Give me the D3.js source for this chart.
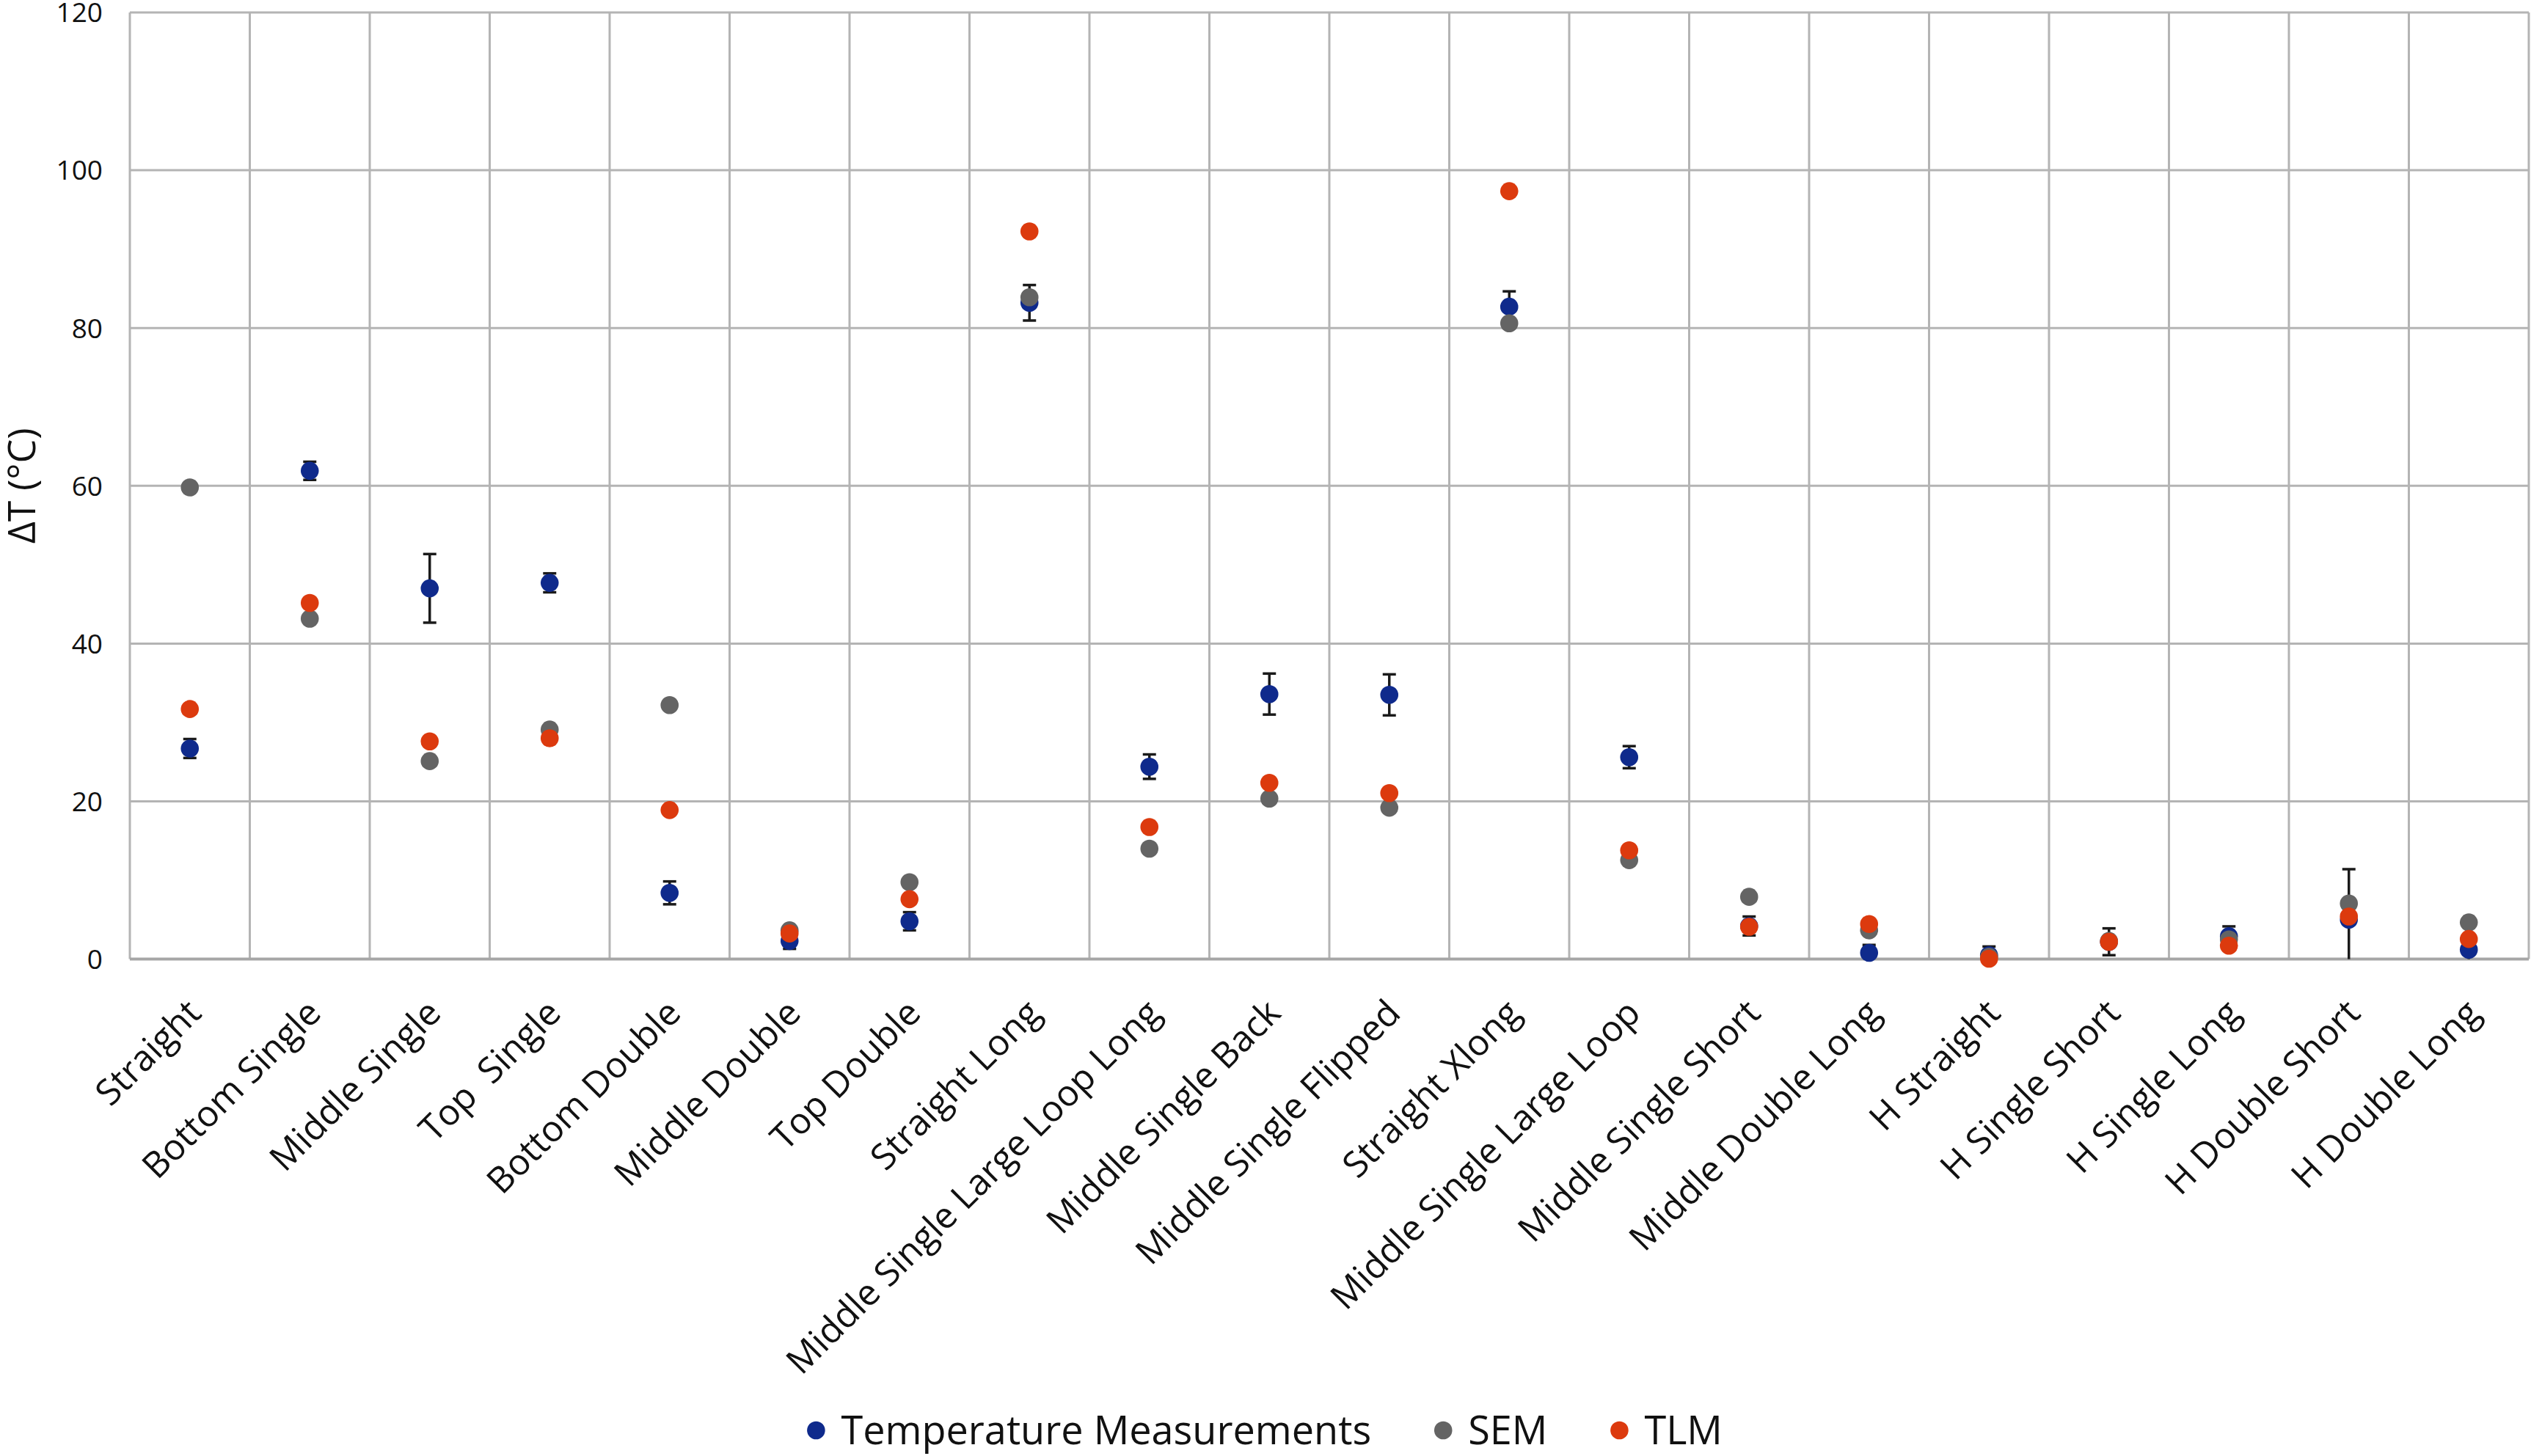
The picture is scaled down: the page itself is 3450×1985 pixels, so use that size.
<!DOCTYPE html>
<html>
<head>
<meta charset="utf-8">
<script src="https://cdn.jsdelivr.net/npm/d3@7"></script>
<style>
  html, body { margin: 0; padding: 0; background: #fff; }
  svg { display: block; font-family: "Open Sans", "DejaVu Sans", sans-serif; }
  .grid line { stroke: #b4b4b4; stroke-width: 3; }
  .cat-label { white-space: pre; }
</style>
</head>
<body>
<svg id="chart" width="3450" height="1985"></svg>
<script>
"use strict";

// categories along the x axis
var categories = [
	'Straight', 'Bottom Single', 'Middle Single', 'Top  Single', 'Bottom Double',
	'Middle Double', 'Top Double', 'Straight Long', 'Middle Single Large Loop Long',
	'Middle Single Back', 'Middle Single Flipped', 'Straight Xlong',
	'Middle Single Large Loop', 'Middle Single Short', 'Middle Double Long',
	'H Straight', 'H Single Short', 'H Single Long', 'H Double Short', 'H Double Long'
];
// delta T values
var tempMeasurements = [26.7, 61.9, 47.0, 47.7, 8.4, 2.3, 4.8, 83.2, 24.4, 33.6,
	33.5, 82.7, 25.6, 4.2, 0.8, 0.5, 2.2, 2.9, 5.0, 1.2];
var tempError = [1.2, 1.15, 4.35, 1.2, 1.45, 1.0, 1.15, 2.25, 1.55, 2.6,
	2.6, 1.95, 1.4, 1.2, 1.0, 1.1, 1.7, 1.25, 6.4, 1.2];
var sem = [59.8, 43.15, 25.1, 29.1, 32.2, 3.65, 9.75, 83.9, 14.0, 20.35,
	19.2, 80.6, 12.55, 7.9, 3.65, 0.3, 2.3, 2.5, 7.05, 4.65];
var tlm = [31.7, 45.15, 27.6, 28.0, 18.9, 3.25, 7.6, 92.25, 16.75, 22.35,
	21.05, 97.35, 13.8, 4.1, 4.45, 0.05, 2.2, 1.7, 5.4, 2.55];
var yTicks = [0, 20, 40, 60, 80, 100, 120];

var series = [
	{ name: 'Temperature Measurements', values: tempMeasurements, color: '#0f2a8c' },
	{ name: 'SEM', values: sem, color: '#646464' },
	{ name: 'TLM', values: tlm, color: '#dc3a0e' }
];

var svg = d3.select('#chart');
var plot = { left: 177, right: 3447, top: 17, bottom: 1307.6 };
var R = 12.3;

var x = d3.scaleBand()
	.domain(categories)
	.range([plot.left, plot.right])
	.paddingInner(0).paddingOuter(0);
var y = d3.scaleLinear()
	.domain([0, 120])
	.range([plot.bottom, plot.top]);
var cx = function(i) { return x(categories[i]) + x.bandwidth() / 2; };

// grid lines
var grid = svg.append('g').attr('class', 'grid');
grid.selectAll('.h').data(yTicks.slice(1)).enter()
	.append('line')
	.attr('x1', plot.left).attr('x2', plot.right)
	.attr('y1', function(d) { return y(d); })
	.attr('y2', function(d) { return y(d); });
var vlines = categories.map(function(c) { return x(c); }).concat([plot.right]);
grid.selectAll('.v').data(vlines).enter()
	.append('line')
	.attr('x1', function(d) { return d; }).attr('x2', function(d) { return d; })
	.attr('y1', plot.top).attr('y2', plot.bottom);
// x axis base line
svg.append('line')
	.attr('x1', plot.left).attr('x2', plot.right)
	.attr('y1', y(0)).attr('y2', y(0))
	.attr('stroke', '#a6a6a6').attr('stroke-width', 4);

// y tick labels
svg.append('g').selectAll('text').data(yTicks).enter()
	.append('text')
	.attr('x', 140)
	.attr('y', function(d) { return y(d); })
	.attr('dy', '0.36em')
	.attr('text-anchor', 'end')
	.attr('font-size', 37)
	.attr('fill', '#111')
	.text(function(d) { return d; });

// y axis title
svg.append('text')
	.attr('transform', 'translate(48,' + ((plot.top + plot.bottom) / 2) + ') rotate(-90)')
	.attr('text-anchor', 'middle')
	.attr('font-size', 52)
	.attr('fill', '#111')
	.text('\u0394T (\u00B0C)');

// category labels, rotated
svg.append('g').selectAll('text').data(categories).enter()
	.append('text')
	.attr('class', 'cat-label')
	.attr('xml:space', 'preserve')
	.attr('transform', function(d, i) {
		return 'translate(' + (cx(i) + 18) + ',' + 1384 + ') rotate(-45)';
	})
	.attr('text-anchor', 'end')
	.attr('font-size', 49)
	.attr('fill', '#111')
	.text(function(d) { return d; });

// error bars of the measurements (drawn under the markers)
var errG = svg.append('g')
	.attr('stroke', '#1a1a1a').attr('stroke-width', 3.5);
tempMeasurements.forEach(function(v, i) {
	var lo = Math.max(0, v - tempError[i]);
	var hi = v + tempError[i];
	var xc = cx(i);
	errG.append('line')
		.attr('x1', xc).attr('x2', xc)
		.attr('y1', y(lo)).attr('y2', y(hi));
	errG.append('line')
		.attr('x1', xc - 9).attr('x2', xc + 9)
		.attr('y1', y(hi)).attr('y2', y(hi));
	if (v - tempError[i] > 0) {
		errG.append('line')
			.attr('x1', xc - 9).attr('x2', xc + 9)
			.attr('y1', y(lo)).attr('y2', y(lo));
	}
});

// markers, series by series
series.forEach(function(s) {
	svg.append('g').selectAll('circle').data(s.values).enter()
		.append('circle')
		.attr('cx', function(d, i) { return cx(i); })
		.attr('cy', function(d) { return y(d); })
		.attr('r', R)
		.attr('fill', s.color);
});

// legend at the bottom
var legend = svg.append('g');
var lx = 0;
series.forEach(function(s, i) {
	var item = legend.append('g').attr('transform', 'translate(' + lx + ',0)');
	item.append('circle').attr('cx', 0).attr('cy', 0).attr('r', R).attr('fill', s.color);
	var t = item.append('text')
		.attr('x', 34).attr('y', 0).attr('dy', '0.36em')
		.attr('font-size', 54)
		.attr('fill', '#111')
		.text(s.name);
	lx += 34 + t.node().getComputedTextLength() + 98;
});
var legendWidth = lx - 98 + R;
legend.attr('transform', 'translate(' + (1724 - legendWidth / 2 + R) + ',1950)');
</script>
</body>
</html>
